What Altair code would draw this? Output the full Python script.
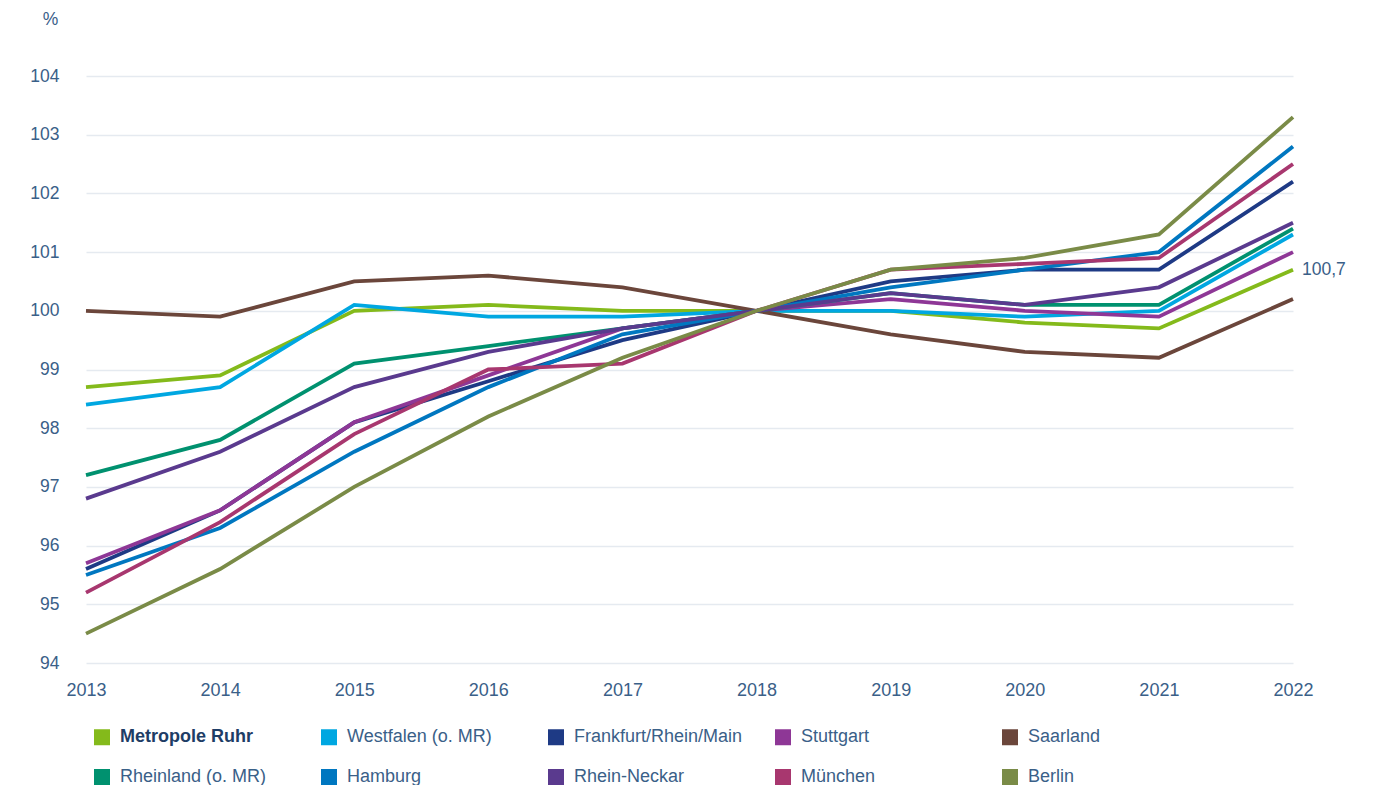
import altair as alt
import pandas as pd

years = [2013, 2014, 2015, 2016, 2017, 2018, 2019, 2020, 2021, 2022]

regions = [
    "Metropole Ruhr", "Westfalen (o. MR)", "Frankfurt/Rhein/Main", "Stuttgart", "Saarland",
    "Rheinland (o. MR)", "Hamburg", "Rhein-Neckar", "München", "Berlin",
]
colors = [
    "#84BA1B", "#00A7E1", "#1E3A85", "#8E3796", "#6B463B",
    "#00916F", "#0077C0", "#5A3A8E", "#A8376F", "#7A8B47",
]

metropole_ruhr = [98.7, 98.9, 100.0, 100.1, 100.0, 100.0, 100.0, 99.8, 99.7, 100.7]
westfalen = [98.4, 98.7, 100.1, 99.9, 99.9, 100.0, 100.0, 99.9, 100.0, 101.3]
frankfurt = [95.6, 96.6, 98.1, 98.8, 99.5, 100.0, 100.5, 100.7, 100.7, 102.2]
stuttgart = [95.7, 96.6, 98.1, 98.9, 99.7, 100.0, 100.2, 100.0, 99.9, 101.0]
saarland = [100.0, 99.9, 100.5, 100.6, 100.4, 100.0, 99.6, 99.3, 99.2, 100.2]
rheinland = [97.2, 97.8, 99.1, 99.4, 99.7, 100.0, 100.3, 100.1, 100.1, 101.4]
hamburg = [95.5, 96.3, 97.6, 98.7, 99.6, 100.0, 100.4, 100.7, 101.0, 102.8]
rhein_neckar = [96.8, 97.6, 98.7, 99.3, 99.7, 100.0, 100.3, 100.1, 100.4, 101.5]
muenchen = [95.2, 96.4, 97.9, 99.0, 99.1, 100.0, 100.7, 100.8, 100.9, 102.5]
berlin = [94.5, 95.6, 97.0, 98.2, 99.2, 100.0, 100.7, 100.9, 101.3, 103.3]

series = [metropole_ruhr, westfalen, frankfurt, stuttgart, saarland,
          rheinland, hamburg, rhein_neckar, muenchen, berlin]

y_ticks = [94, 95, 96, 97, 98, 99, 100, 101, 102, 103, 104]

rows = []
for name, vals in zip(regions, series):
    for yr, v in zip(years, vals):
        rows.append({"Region": name, "Jahr": yr, "Wert": v})
df = pd.DataFrame(rows)

FONT = "Liberation Sans"
TXT = "#3A6088"

legend = alt.Legend(
    title=None,
    orient="none",
    direction="horizontal",
    legendX=7,
    legendY=652,
    columns=5,
    gridAlign="all",
    columnPadding=9,
    rowPadding=-32,
    padding=0,
    symbolType="square",
    symbolSize=1,
    symbolStrokeWidth=15,
    labelOffset=9,
    labelLimit=400,
    labelFont=FONT,
    labelFontSize=18,
    labelFontWeight={"expr": "datum.value === 'Metropole Ruhr' ? 'bold' : 'normal'"},
    labelColor={"expr": "datum.value === 'Metropole Ruhr' ? '#1E3D66' : '" + TXT + "'"},
)

x_enc = alt.X(
    "Jahr:Q",
    scale=alt.Scale(domain=[years[0], years[-1]], nice=False, zero=False),
    axis=alt.Axis(
        values=years, format="d", title=None, grid=False, domain=False, ticks=False,
        labelFont=FONT, labelFontSize=18, labelColor=TXT, labelPadding=18,
        labelFlush=False,
    ),
)
y_enc = alt.Y(
    "Wert:Q",
    scale=alt.Scale(domain=[y_ticks[0], y_ticks[-1]], nice=False, zero=False),
    axis=alt.Axis(
        values=y_ticks, format="d", title="%", titleAngle=0, titleX=-36, titleY=-57,
        titleAlign="center", titleBaseline="middle",
        titleFont=FONT, titleFontSize=17.5, titleFontWeight="normal", titleColor=TXT,
        grid=True, gridColor="#E5EAF0", gridWidth=1.5,
        domain=False, ticks=False,
        labelFont=FONT, labelFontSize=17.5, labelColor=TXT, labelPadding=27,
    ),
)

lines = alt.Chart(df).mark_line(strokeWidth=3.8, strokeCap="butt", strokeJoin="miter").encode(
    x=x_enc,
    y=y_enc,
    color=alt.Color("Region:N", scale=alt.Scale(domain=regions, range=colors),
                    sort=regions, legend=legend),
)

label = alt.Chart(df).transform_filter(
    (alt.datum.Region == "Metropole Ruhr") & (alt.datum.Jahr == years[-1])
).transform_calculate(
    txt="replace(format(datum.Wert, '.1f'), '.', ',')"
).mark_text(
    align="left", baseline="middle", dx=9, font=FONT, fontSize=17.5, color=TXT
).encode(
    x="Jahr:Q", y="Wert:Q", text="txt:N"
)

chart = alt.layer(lines, label).properties(
    width=1207,
    height=587,
    autosize=alt.AutoSizeParams(type="none"),
    padding={"left": 78, "top": 68, "right": 70, "bottom": 122},
).configure_view(stroke=None)

chart.save("out.html", embed_options={"renderer": "svg", "actions": False})
